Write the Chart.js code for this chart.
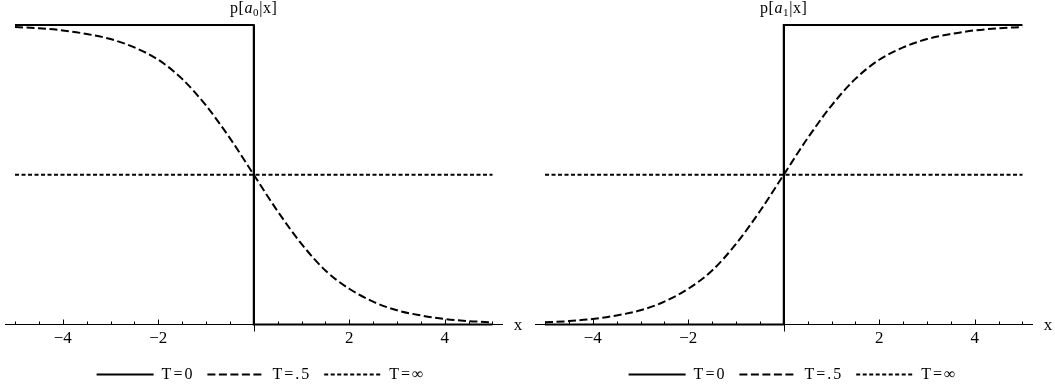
<!DOCTYPE html>
<html>
<head>
<meta charset="utf-8">
<script src="https://cdn.jsdelivr.net/npm/chart.js@4.4.1/dist/chart.umd.min.js"></script>
<style>
  body { margin: 0; background: #fff; overflow: hidden; }
  .panel { position: absolute; top: 0; height: 389px; }
</style>
</head>
<body>
<div class="panel" style="left:0;width:530px"><canvas id="left" width="530" height="389"></canvas></div>
<div class="panel" style="left:530px;width:525px"><canvas id="right" width="525" height="389"></canvas></div>
<script>
// x positions of the smooth (T=.5) curve
const xs = [-5, -4.5, -4, -3.5, -3, -2.5, -2, -1.5, -1, -0.5, 0, 0.5, 1, 1.5, 2, 2.5, 3, 3.5, 4, 4.5, 5];
// p[a0|x] at T=.5
const softA0 = [0.993, 0.989, 0.982, 0.97, 0.953, 0.925, 0.884, 0.82, 0.731, 0.622, 0.5,
                0.378, 0.269, 0.18, 0.119, 0.076, 0.047, 0.03, 0.018, 0.011, 0.007];
// p[a1|x] at T=.5, right panel
const softA1 = [0.007, 0.011, 0.018, 0.03, 0.047, 0.076, 0.119, 0.18, 0.269, 0.378, 0.5,
                0.622, 0.731, 0.82, 0.884, 0.925, 0.953, 0.97, 0.982, 0.989, 0.993];
// T=0 step
const stepX = [-5, 0, 0, 5];
const stepA0 = [1, 1, 0, 0];
const stepA1 = [0, 0, 1, 1];
// T=inf flat line
const flatX = [-5, 5];
const flatY = [0.5, 0.5];

const legendNames = ['T=0', 'T=.5', 'T=\u221E'];
const tickValues = [-5, -4.5, -4, -3.5, -3, -2.5, -2, -1.5, -1, -0.5, 0, 0.5, 1, 1.5, 2, 2.5, 3, 3.5, 4, 4.5, 5];
const labeledTicks = [-4, -2, 2, 4];
const tickLabels = ['\u22124', '\u22122', '2', '4'];
const titleSubs = ['0', '1'];

const serif = '"Liberation Serif", "Times New Roman", serif';

function pts(xv, yv) {
  return xv.map((x, i) => ({ x: x, y: yv[i] }));
}

// mathematica style axis: line through y=0, ticks pointing up, "x" label, title above
const axisPlugin = {
  id: 'mmaAxis',
  beforeUpdate(chart) {
    // legend text is spaced wider than the ticks, so wrap only the legend
    const lg = chart.legend;
    if (!lg || lg._spaced) return;
    const fit = lg.fit.bind(lg);
    const draw = lg.draw.bind(lg);
    lg.fit = function () {
      chart.ctx.letterSpacing = '2px';
      fit();
      chart.ctx.letterSpacing = '0px';
    };
    lg.draw = function () {
      chart.ctx.letterSpacing = '2px';
      draw();
      chart.ctx.letterSpacing = '0px';
    };
    lg._spaced = true;
  },
  afterLayout(chart) {
    const shift = chart.options.plugins.mmaAxis.legendShift;
    chart.legend.left += shift;
    chart.legend.right += shift;
  },
  beforeDatasetsDraw(chart) {
    const { ctx, chartArea, scales: { x, y } } = chart;
    const y0 = Math.round(y.getPixelForValue(0)) + 0.5;
    ctx.save();
    ctx.strokeStyle = '#000';
    ctx.lineWidth = 1;
    ctx.beginPath();
    ctx.moveTo(chartArea.left, y0);
    ctx.lineTo(chartArea.right, y0);
    x.ticks.forEach(t => {
      if (t.value === 0) return;
      const px = Math.round(x.getPixelForValue(t.value)) + 0.5;
      const len = labeledTicks.includes(t.value) ? 5 : 3;
      ctx.moveTo(px, y0);
      ctx.lineTo(px, y0 - len);
    });
    // y axis, mostly hidden behind the step
    const x0 = Math.round(x.getPixelForValue(0)) + 0.5;
    ctx.moveTo(x0, y0 + 7);
    ctx.lineTo(x0, y.getPixelForValue(1));
    ctx.stroke();

    ctx.fillStyle = '#000';
    ctx.font = '17px ' + serif;
    ctx.textBaseline = 'alphabetic';
    ctx.textAlign = 'center';
    ctx.fillText('x', chartArea.right + 15, y0 + 5);
    ctx.restore();
  },
  afterDraw(chart) {
    const { ctx, scales: { x } } = chart;
    const sub = chart.options.plugins.mmaAxis.sub;
    const parts = [
      { t: 'p[', f: '16px ' + serif, dy: 0 },
      { t: 'a', f: 'italic 16px ' + serif, dy: 0 },
      { t: sub, f: '11px ' + serif, dy: 3 },
      { t: '|x]', f: '16px ' + serif, dy: 0 }
    ];
    ctx.save();
    ctx.fillStyle = '#000';
    ctx.textBaseline = 'alphabetic';
    ctx.textAlign = 'left';
    ctx.letterSpacing = '0.6px';
    let w = 0;
    parts.forEach(p => { ctx.font = p.f; p.w = ctx.measureText(p.t).width; w += p.w; });
    let cx = x.getPixelForValue(0) - w / 2;
    parts.forEach(p => {
      ctx.font = p.f;
      ctx.fillText(p.t, cx, 13 + p.dy);
      cx += p.w;
    });
    ctx.letterSpacing = '0px';
    ctx.restore();
  }
};

function makeChart(id, step, soft, sub, padRight, legendShift) {
  const ctx = document.getElementById(id).getContext('2d');
  return new Chart(ctx, {
    type: 'line',
    data: {
      datasets: [
        {
          label: legendNames[0],
          data: pts(stepX, step),
          borderColor: '#000',
          borderWidth: 2,
          pointRadius: 0,
          tension: 0,
          clip: false
        },
        {
          label: legendNames[1],
          data: pts(xs, soft),
          borderColor: '#000',
          borderWidth: 2,
          borderDash: [8, 3.5],
          pointRadius: 0,
          cubicInterpolationMode: 'monotone',
          clip: false
        },
        {
          label: legendNames[2],
          data: pts(flatX, flatY),
          borderColor: '#000',
          borderWidth: 2,
          borderDash: [4, 2.5],
          pointRadius: 0,
          clip: false
        }
      ]
    },
    options: {
      responsive: false,
      animation: false,
      events: [],
      layout: { padding: { left: 5, right: padRight, top: 25, bottom: -3.4 } },
      scales: {
        x: {
          type: 'linear',
          min: -5.21,
          max: 5.22,
          border: { display: false },
          grid: { display: false, drawTicks: false },
          afterBuildTicks: axis => {
            axis.ticks = tickValues.map(v => ({ value: v }));
          },
          ticks: {
            autoSkip: false,
            maxRotation: 0,
            padding: 4.3,
            color: '#000',
            font: { family: serif, size: 17 },
            callback: v => {
              const i = labeledTicks.indexOf(v);
              return i >= 0 ? tickLabels[i] : '';
            }
          }
        },
        y: { display: false, min: 0, max: 1 }
      },
      plugins: {
        mmaAxis: { sub: sub, legendShift: legendShift },
        tooltip: { enabled: false },
        legend: {
          position: 'bottom',
          labels: {
            usePointStyle: true,
            pointStyle: 'line',
            pointStyleWidth: 57,
            padding: 13,
            color: '#000',
            font: { family: serif, size: 16 },
            generateLabels: chart => {
              const items = Chart.defaults.plugins.legend.labels.generateLabels(chart);
              return items.map((item, i) => {
                const ds = chart.data.datasets[i];
                item.lineDash = ds.borderDash || [];
                item.lineWidth = ds.borderWidth;
                item.strokeStyle = ds.borderColor;
                return item;
              });
            }
          }
        }
      }
    },
    plugins: [axisPlugin]
  });
}

makeChart('left', stepA0, softA0, titleSubs[0], 27, 7);
makeChart('right', stepA1, softA1, titleSubs[1], 22, 9);
</script>
</body>
</html>
